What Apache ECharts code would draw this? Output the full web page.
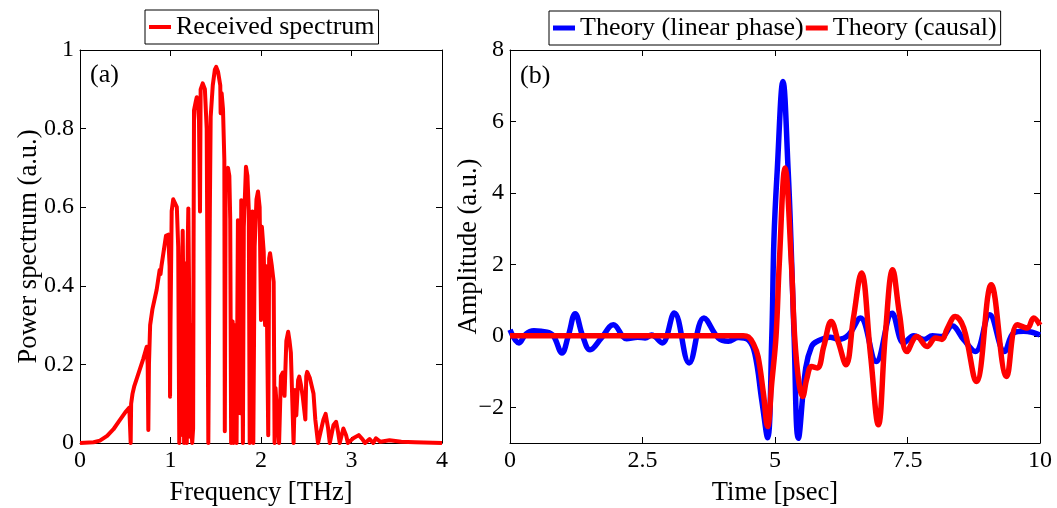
<!DOCTYPE html>
<html>
<head>
<meta charset="utf-8">
<script src="https://cdn.jsdelivr.net/npm/echarts@6/dist/echarts.min.js"></script>
<style>
  html, body { margin: 0; padding: 0; background: #fff; }
  #chart { width: 1057px; height: 508px; }
</style>
</head>
<body>
<div id="chart"></div>
<script>
// (a) received power spectrum
const specFreq = [0, 0.15, 0.22, 0.3, 0.37, 0.43, 0.5, 0.545, 0.555, 0.56, 0.565, 0.58, 0.6, 0.65, 0.7, 0.737, 0.748, 0.755, 0.762, 0.775, 0.8, 0.847, 0.88, 0.89, 0.9, 0.95, 0.975, 0.99, 0.995, 1.0, 1.013, 1.03, 1.05, 1.07, 1.085, 1.097, 1.105, 1.11, 1.115, 1.135, 1.145, 1.15, 1.158, 1.165, 1.175, 1.18, 1.19, 1.197, 1.205, 1.215, 1.222, 1.23, 1.24, 1.25, 1.255, 1.26, 1.28, 1.29, 1.305, 1.315, 1.326, 1.333, 1.356, 1.38, 1.4, 1.418, 1.435, 1.444, 1.467, 1.49, 1.505, 1.525, 1.55, 1.554, 1.565, 1.58, 1.595, 1.6, 1.61, 1.635, 1.65, 1.66, 1.67, 1.687, 1.695, 1.72, 1.73, 1.745, 1.76, 1.77, 1.782, 1.795, 1.8, 1.81, 1.834, 1.85, 1.865, 1.875, 1.882, 1.89, 1.905, 1.915, 1.93, 1.95, 1.967, 1.985, 2.0, 2.01, 2.03, 2.045, 2.06, 2.08, 2.09, 2.1, 2.12, 2.14, 2.15, 2.16, 2.18, 2.2, 2.22, 2.24, 2.26, 2.28, 2.3, 2.315, 2.33, 2.36, 2.375, 2.39, 2.41, 2.423, 2.44, 2.46, 2.49, 2.5, 2.51, 2.54, 2.58, 2.6, 2.63, 2.67, 2.69, 2.714, 2.74, 2.76, 2.8, 2.83, 2.85, 2.87, 2.91, 2.94, 2.96, 3.02, 3.08, 3.12, 3.15, 3.2, 3.24, 3.27, 3.32, 3.42, 3.55, 3.7, 4.0];
const specPower = [0, 0.002, 0.006, 0.018, 0.035, 0.055, 0.078, 0.09, 0.085, 0.0, 0.1, 0.125, 0.145, 0.18, 0.215, 0.245, 0.2, 0.033, 0.2, 0.3, 0.34, 0.39, 0.44, 0.43, 0.45, 0.527, 0.53, 0.45, 0.118, 0.3, 0.59, 0.62, 0.625, 0.6, 0.5, 0.0, 0.25, 0.02, 0.3, 0.54, 0.3, 0.0, 0.35, 0.457, 0.2, 0.0, 0.5, 0.597, 0.4, 0.016, 0.3, 0.04, 0.0, 0.037, 0.5, 0.847, 0.87, 0.88, 0.85, 0.82, 0.589, 0.9, 0.915, 0.9, 0.8, 0.0, 0.6, 0.83, 0.91, 0.95, 0.957, 0.945, 0.91, 0.839, 0.89, 0.85, 0.72, 0.03, 0.69, 0.7, 0.68, 0.57, 0.0, 0.309, 0.0, 0.3, 0.0, 0.567, 0.4, 0.076, 0.618, 0.2, 0.0, 0.55, 0.703, 0.68, 0.593, 0.0, 0.35, 0.55, 0.589, 0.0, 0.5, 0.62, 0.64, 0.6, 0.313, 0.55, 0.487, 0.3, 0.45, 0.02, 0.47, 0.483, 0.45, 0.41, 0.0, 0.14, 0.143, 0.0, 0.17, 0.179, 0.12, 0.26, 0.283, 0.26, 0.23, 0.0, 0.135, 0.07, 0.16, 0.169, 0.15, 0.12, 0.06, 0.17, 0.181, 0.165, 0.126, 0.06, 0.0, 0.04, 0.06, 0.074, 0.04, 0.0, 0.045, 0.054, 0.03, 0.0, 0.037, 0.02, 0.0, 0.012, 0.02, 0.01, 0.0, 0.01, 0.0, 0.012, 0.003, 0.007, 0.003, 0.002, 0.0];

// (b) time-domain pulses
const linTime = [0, 0.17, 0.3, 0.45, 0.7, 0.82, 0.98, 1.1, 1.23, 1.37, 1.51, 1.73, 1.95, 2.2, 2.41, 2.55, 2.67, 2.87, 3.1, 3.38, 3.66, 3.93, 4.12, 4.31, 4.5, 4.62, 4.75, 4.86, 4.94, 4.98, 5.04, 5.15, 5.25, 5.3, 5.36, 5.44, 5.58, 5.69, 5.79, 6.04, 6.2, 6.39, 6.61, 6.91, 7.21, 7.43, 7.62, 7.81, 7.97, 8.15, 8.34, 8.56, 8.78, 9.05, 9.33, 9.5, 9.69, 9.85, 10];
const linAmp = [0.17, -0.2, 0.05, 0.14, 0.1, 0.0, -0.48, 0.0, 0.62, 0.0, -0.39, -0.05, 0.31, -0.08, -0.04, -0.06, 0.02, -0.2, 0.64, -0.76, 0.5, -0.06, -0.15, -0.05, -0.12, -0.5, -1.8, -2.85, 0, 2.7, 4.57, 7.12, 4.57, 2.7, 0, -2.87, -0.9, -0.3, -0.16, -0.04, -0.1, 0.03, 0.5, -0.72, 0.63, -0.2, 0, -0.1, 0, -0.02, 0.28, -0.11, -0.44, 0.59, -0.44, 0.08, 0.13, 0.1, 0.02];

const causTime = [0, 4.4, 4.5, 4.6, 4.68, 4.78, 4.86, 4.94, 5.02, 5.08, 5.19, 5.31, 5.37, 5.45, 5.52, 5.6, 5.69, 5.8, 5.92, 6.06, 6.2, 6.34, 6.48, 6.63, 6.8, 6.95, 7.08, 7.22, 7.35, 7.49, 7.68, 7.87, 8.03, 8.15, 8.25, 8.4, 8.56, 8.8, 9.08, 9.37, 9.57, 9.76, 9.88, 10];
const causAmp = [0, 0, -0.03, -0.25, -0.58, -1.6, -2.54, -1.3, 0, 2.0, 4.7, 2.0, 0, -1.3, -1.7, -1.2, -0.86, -0.9, -0.3, 0.4, -0.2, -0.81, 0.5, 1.76, -0.5, -2.49, 0, 1.85, 0.6, -0.44, -0.02, -0.3, -0.06, -0.1, 0.2, 0.54, 0.22, -1.28, 1.43, -1.14, 0.31, 0.22, 0.5, 0.3];

const ampTicks = [-2, 0, 2, 4, 6, 8];

const FONT = 'Liberation Serif';
const pairs = (xs, ys) => xs.map((x, i) => [x, ys[i]]);

const chart = echarts.init(document.getElementById('chart'));

const frame = { lineStyle: { color: '#000', width: 1 } };
const label = { color: '#000', fontFamily: FONT, fontSize: 24, margin: 6 };
const nameStyle = { color: '#000', fontFamily: FONT, fontSize: 26.5 };

function axisPair(kind, gridIndex, min, max, interval, name, nameGap, custom) {
  const main = {
    type: 'value', gridIndex, min, max, interval,
    position: kind === 'x' ? 'bottom' : 'left',
    name, nameLocation: 'middle', nameGap, nameMoveOverlap: false, nameTextStyle: nameStyle,
    axisLine: { show: true, onZero: false, ...frame },
    axisTick: { show: true, inside: true, length: 6, ...frame },
    axisLabel: { ...label },
    splitLine: { show: false }
  };
  const twin = {
    type: 'value', gridIndex, min, max, interval,
    position: kind === 'x' ? 'top' : 'right',
    axisLine: { show: true, onZero: false, ...frame },
    axisTick: { show: true, inside: true, length: 6, ...frame },
    axisLabel: { show: false },
    splitLine: { show: false }
  };
  if (custom) {
    delete main.interval; delete twin.interval;
    main.axisTick.customValues = custom;
    main.axisLabel.customValues = custom;
    main.axisLabel.formatter = v => (v < 0 ? '\u2212' + Math.abs(v) : String(v));
    twin.axisTick.customValues = custom;
  }
  return [main, twin];
}

chart.setOption({
  animation: false,
  backgroundColor: '#fff',
  grid: [
    { left: 80, top: 50, width: 362, height: 393, outerBoundsMode: 'none', containLabel: false },
    { left: 510, top: 50, width: 530, height: 393, outerBoundsMode: 'none', containLabel: false }
  ],
  legend: [
    {
      data: ['Received spectrum'],
      left: 145, top: 10,
      padding: [4, 4, 4, 4],
      borderColor: '#000', borderWidth: 1,
      icon: 'rect', itemWidth: 22, itemHeight: 4,
      textStyle: { color: '#000', fontFamily: FONT, fontSize: 26 }
    },
    {
      data: ['Theory (linear phase)', 'Theory (causal)'],
      left: 549, top: 11,
      padding: [4, 4, 4, 4],
      itemGap: 2,
      borderColor: '#000', borderWidth: 1,
      icon: 'rect', itemWidth: 22, itemHeight: 5,
      textStyle: { color: '#000', fontFamily: FONT, fontSize: 26 }
    }
  ],
  xAxis: [
    ...axisPair('x', 0, 0, 4, 1, 'Frequency [THz]', 37),
    ...axisPair('x', 1, 0, 10, 2.5, 'Time [psec]', 37)
  ],
  yAxis: [
    ...axisPair('y', 0, 0, 1, 0.2, 'Power spectrum (a.u.)', 37),
    ...axisPair('y', 1, -3, 8, null, 'Amplitude (a.u.)', 27, ampTicks)
  ],
  graphic: [
    { type: 'text', left: 90, top: 62, style: { text: '(a)', font: '26px "Liberation Serif"', fill: '#000' } },
    { type: 'text', left: 520, top: 63, style: { text: '(b)', font: '26px "Liberation Serif"', fill: '#000' } }
  ],
  series: [
    {
      name: 'Received spectrum', type: 'line',
      xAxisIndex: 0, yAxisIndex: 0,
      data: pairs(specFreq, specPower),
      showSymbol: false, color: '#ff0000',
      lineStyle: { width: 4, color: '#ff0000', join: 'round' }
    },
    {
      name: 'Theory (linear phase)', type: 'line',
      xAxisIndex: 2, yAxisIndex: 2,
      data: pairs(linTime, linAmp),
      showSymbol: false, smooth: 0.4, color: '#0000ff',
      lineStyle: { width: 5.5, color: '#0000ff' }
    },
    {
      name: 'Theory (causal)', type: 'line',
      xAxisIndex: 2, yAxisIndex: 2,
      data: pairs(causTime, causAmp),
      showSymbol: false, smooth: 0.4, color: '#ff0000',
      lineStyle: { width: 5.5, color: '#ff0000' }
    }
  ]
});
</script>
</body>
</html>
